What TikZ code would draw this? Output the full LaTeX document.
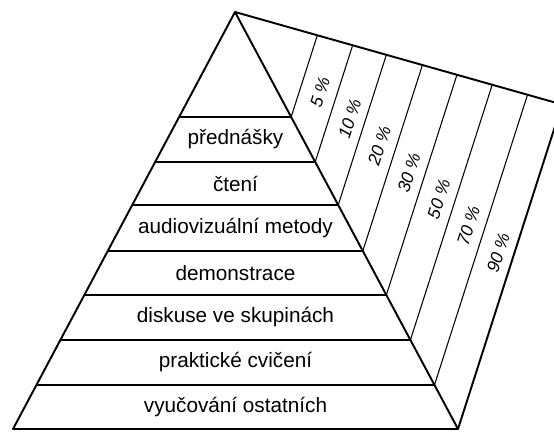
\documentclass[tikz,border=0pt]{standalone}
\usepackage{fontspec}
\setmainfont{Liberation Sans}
\usetikzlibrary{calc}

\begin{document}
\begin{tikzpicture}[x=0.02cm, y=-0.02cm,
    edge/.style={line width=1.1pt, line join=round},
    rule/.style={line width=0.6pt},
    band/.style={font=\fontsize{11.8}{14}\selectfont, inner sep=0pt},
    pct/.style={font=\fontsize{10}{12}\selectfont\itshape, inner sep=0pt, rotate=72}]
    \useasboundingbox (0,0) rectangle (554,432);
    \coordinate (apex) at (235,12);
    \coordinate (bl) at (13,429);
    \coordinate (br) at (458,429);
    \coordinate (tr) at (562,104.5);

    \foreach \y [count=\i] in {117,162,205,251,295,340,385} {
        \pgfmathsetmacro{\t}{(\y-12)/417}
        \coordinate (l\i) at ($(apex)!\t!(bl)$);
        \coordinate (r\i) at ($(apex)!\t!(br)$);
        \coordinate (s\i) at ($(r\i)+(tr)-(br)$);
        \coordinate (u\i) at (intersection cs: first line={(r\i)--(s\i)}, second line={(apex)--(tr)});
        \draw[rule] (l\i) -- (r\i);
        \draw[rule] (r\i) -- (u\i);
    }

    \draw[edge] (apex) -- (bl) -- (br) -- cycle;
    \draw[edge] (apex) -- (tr) -- (br);

    \node[band] (prednasky) at (235.5,139.5) {přednášky};
    \node[band] (cteni) at (235.5,183.5) {čtení};
    \node[band] (audio) at (235.5,228) {audiovizuální metody};
    \node[band] (demo) at (235.5,273) {demonstrace};
    \node[band] (diskuse) at (235.5,317.5) {diskuse ve skupinách};
    \node[band] (cviceni) at (235.5,362.5) {praktické cvičení};
    \node[band] (vyucovani) at (235.5,407) {vyučování ostatních};

    \foreach \p [count=\k from 0] in {5,10,20,30,50,70,90}
        \node[pct] (p\p) at ({320+29.7*\k},{92+26.8*\k}) {\p~\%};
\end{tikzpicture}
\end{document}
